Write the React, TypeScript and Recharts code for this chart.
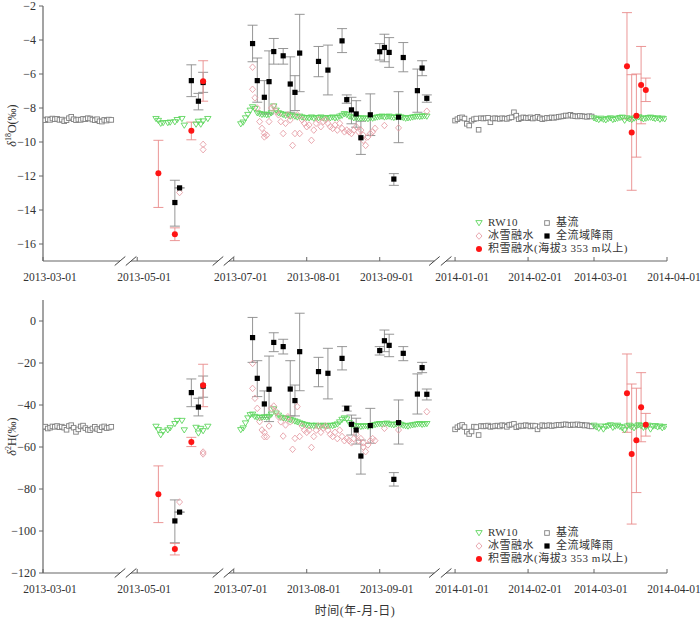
import { ScatterChart, Scatter, XAxis, YAxis, ErrorBar, ReferenceLine, Legend } from "recharts";

// broken time axis: each segment start date sits at a fixed axis position (days)
const SEGMENTS = [
  { start: "2013-03-01", at: 0 },
  { start: "2013-05-01", at: 40 },
  { start: "2013-07-01", at: 81 },
  { start: "2014-01-01", at: 175 },
];
const AXIS_PIECES = [[0, 32.7], [37.4, 74.3], [79, 166.2], [171.2, 265]];
const BREAK_MARKS = [32.7, 37.4, 74.3, 79, 166.2, 171.2];
const TICK_DATES = [
  "2013-03-01", "2013-05-01", "2013-07-01", "2013-08-01", "2013-09-01",
  "2014-01-01", "2014-02-01", "2014-03-01", "2014-04-01",
];

// 基流
const baseMarStart = "2013-03-01";
const baseMarO = [-8.68, -8.72, -8.66, -8.7, -8.62, -8.66, -8.64, -8.7, -8.68, -8.78, -8.72, -8.6, -8.52, -8.66, -8.72, -8.68, -8.7, -8.64, -8.66, -8.6, -8.62, -8.68, -8.72, -8.66, -8.78, -8.8, -8.7, -8.74, -8.68, -8.7];
const baseMarH = [-50.5, -50.3, -51.2, -50.8, -50.2, -50.4, -50, -50.6, -50.3, -50.8, -51.8, -50, -49.6, -50.8, -52.8, -51.6, -50.2, -49.8, -51, -51.8, -52, -51.2, -50.4, -51.4, -52, -50.6, -50.2, -51, -50.8, -50.4];
const baseJanStart = "2014-01-01";
const baseJanO = [-8.74, -8.66, -8.58, -8.55, -8.62, -8.93, -9.03, -8.74, -8.66, -8.62, -9.28, -8.6, -8.62, -8.6, -8.58, -8.84, -8.62, -8.6, -8.62, -8.64, -8.6, -8.62, -8.64, -8.58, -8.55, -8.25, -8.45, -8.66, -8.6, -8.55, -8.58, -8.6, -8.55, -8.62, -8.58, -8.52, -8.6, -8.66, -8.62, -8.58, -8.6, -8.55, -8.58, -8.55, -8.52, -8.5, -8.48, -8.44, -8.45, -8.4, -8.46, -8.48, -8.5, -8.46, -8.48, -8.5, -8.52, -8.48, -8.5];
const baseJanH = [-51.6, -50.6, -50, -49.5, -50.5, -52.7, -53.8, -52.6, -50.3, -50.5, -54.3, -50, -50.2, -50, -49.8, -50.4, -50.2, -50, -49.8, -50.2, -49.6, -49.8, -50.4, -49.5, -49.3, -49, -50.6, -50.2, -49.8, -50, -49.6, -49.8, -50.2, -49.8, -50, -51.6, -50.2, -49.6, -50, -49.8, -49.6, -50, -49.8, -49.6, -49.4, -49.6, -49.3, -49.2, -49.4, -49.6, -49.3, -49.5, -49.2, -49.6, -49.4, -49.8, -49.6, -50, -50.2];

// RW10
const rwMayDates = ["2013-05-09", "2013-05-10", "2013-05-11", "2013-05-12", "2013-05-14", "2013-05-15", "2013-05-17", "2013-05-18", "2013-05-20", "2013-05-21", "2013-05-26", "2013-05-27", "2013-05-28", "2013-05-29", "2013-05-31"];
const rwMayO = [-8.64, -8.75, -8.92, -8.88, -8.88, -8.85, -8.83, -8.7, -8.64, -9.03, -8.97, -8.8, -8.97, -8.78, -8.64];
const rwMayH = [-50.3, -51.9, -54.3, -52.7, -52, -51, -49, -47.5, -47.5, -52, -50.8, -53.5, -51.3, -52.4, -50.3];
const rwJulStart = "2013-07-04";
const rwJulO = [-8.95, -8.85, -8.6, -8.4, -8.15, -7.95, -8.05, -8.3, -8.35, -8.4, -8.38, -8.42, -8.4, -8.3, -7.9, -8.15, -8.3, -8.35, -8.4, -8.45, -8.4, -8.5, -8.45, -8.5, -8.55, -8.5, -8.55, -8.6,
  -8.58, -8.6, -8.55, -8.62, -8.58, -8.6, -8.55, -8.6, -8.62, -8.58, -8.6, -8.55, -8.6, -8.58, -8.5, -8.45, -8.35, -8.4, -8.5, -8.55, -8.6, -8.58, -8.6, -8.62, -8.6, -8.62, -8.65, -8.6, -8.62, -8.58, -8.55,
  -8.52, -8.5, -8.55, -8.52, -8.5, -8.55, -8.58, -8.55, -8.5, -8.55, -8.58, -8.62, -8.6, -8.58, -8.55, -8.52, -8.5, -8.52, -8.5, -8.48, -8.5];
const rwJulH = [-51.9, -51.1, -48.7, -46.3, -44.8, -44.5, -45.6, -46, -46.2, -46, -45.8, -46, -45.6, -44.5, -42, -44, -45, -46, -46.3, -46.5, -46.8, -47.1, -47.4, -47.8, -48.2, -48.7, -49, -49.4,
  -49.6, -50, -49.8, -50, -49.8, -50.2, -50, -49.8, -50.2, -50, -49.8, -50, -49.6, -49.2, -48.2, -47, -46.3, -46.8, -48.5, -49.5, -50, -50.2, -50, -50.4, -50.2, -50, -50.3, -50, -49.8, -49.5, -49.2,
  -49, -49.2, -49, -48.8, -49.2, -49.4, -49.6, -49.2, -49, -49.4, -49.8, -50, -50.2, -49.8, -49.6, -49.4, -49.2, -49, -49.4, -49.2, -49];
const rwMarStart = "2014-03-01";
const rwMarO = [-8.6, -8.66, -8.7, -8.62, -8.68, -8.72, -8.64, -8.6, -8.7, -8.66, -8.62, -8.58, -8.56, -8.74, -8.6, -8.66, -8.7, -8.62, -8.58, -8.54, -8.6, -8.66, -8.62, -8.58, -8.56, -8.6, -8.64, -8.6, -8.68, -8.62, -8.66];
const rwMarH = [-49.8, -50.6, -51.2, -50.2, -51.6, -50.4, -50, -49.6, -50.8, -50.2, -49.8, -50.4, -51, -52, -50.2, -49.8, -50.6, -51, -50.2, -49.6, -50, -50.8, -50.4, -49.8, -51.6, -50.2, -50, -50.6, -50.2, -51, -50.4];

// 冰雪融水
const meltJulStart = "2013-07-09";
const meltJulO = [-6.9, -7.4, -8.0, -8.8, -9.2, -9.7, -9.6, -8.8, -8.0, -7.9, -8.2, -8.4, -8.8, -9.5, -8.9, -8.4, -8.7, -10.2, -9.5, -8.4, -9.5, -8.7, -8.9,
  -9.1, -9.0, -9.9, -9.3, -8.9, -8.7, -9.1, -8.8, -8.7, -8.9, -9.1, -9.2, -9.0, -9.3, -8.9, -9.2, -9.4, -9.3, -9.4, -9.5, -9.3, -9.1, -9.4, -9.3, -9.6, -10.2, -9.7, -9.5, -9.4, -9.2];
const meltJulH = [-32.1, -36.8, -41.6, -47.9, -51.9, -55.1, -55.1, -50, -41.6, -40.5, -43.2, -45.6, -48, -54.8, -49.5, -45.6, -48, -61.1, -55.9, -40.8, -55, -50, -52,
  -53, -52, -60.2, -55, -52, -50, -53, -51, -50, -52, -54, -55, -53, -56, -52, -55, -57, -56, -57, -58, -56, -54, -57, -56, -58, -62.2, -59, -57, -56, -57];
const meltOtherDates = ["2013-05-19", "2013-05-29", "2013-05-29", "2013-07-09", "2013-07-14", "2013-08-25", "2013-09-03", "2013-09-09", "2013-09-21"];
const meltOtherO = [-12.97, -10.14, -10.45, -5.6, -9.5, -9.9, -9.03, -9.17, -8.19];
const meltOtherH = [-86.2, -63.3, -62.4, -20.2, -53, -60, -51.1, -51.9, -43.2];

// 全流域降雨 (value, lower and upper end of error bar)
const rainDates = ["2013-05-17", "2013-05-19", "2013-05-24", "2013-05-27", "2013-05-29",
  "2013-07-09", "2013-07-11", "2013-07-14", "2013-07-16", "2013-07-18", "2013-07-22", "2013-07-25", "2013-07-27", "2013-07-29",
  "2013-08-06", "2013-08-10", "2013-08-16", "2013-08-18", "2013-08-20", "2013-08-22", "2013-08-24", "2013-08-28",
  "2013-09-01", "2013-09-03", "2013-09-05", "2013-09-07", "2013-09-09", "2013-09-11", "2013-09-17", "2013-09-19", "2013-09-21"];
const rainO = [-13.56, -12.7, -6.39, -7.6, -6.5, -4.21, -6.39, -7.37, -6.45, -4.68, -4.93, -6.59, -7.08, -4.77, -5.26, -5.77, -4.05, -7.51, -8.11, -8.35, -9.75, -8.4, -4.69, -4.44, -4.73, -12.18, -8.54, -5.03, -6.98, -5.65, -7.43];
const rainOLo = [-14.95, -12.7, -7.33, -8.11, -7.08, -5.28, -7.66, -8.35, -8.35, -5.42, -5.42, -8.25, -8.15, -7.04, -6.16, -7.23, -4.74, -7.72, -8.93, -9.13, -10.73, -9.62, -5.18, -5.28, -5.61, -12.55, -10.04, -5.87, -8.25, -6.1, -7.66];
const rainOHi = [-12.25, -12.7, -5.46, -7.14, -5.9, -3.13, -5.06, -6.39, -4.64, -3.91, -4.5, -4.99, -6.1, -2.49, -4.38, -4.3, -3.33, -7.23, -7.37, -7.57, -8.78, -7.17, -4.21, -3.66, -3.86, -11.86, -7.04, -4.15, -5.71, -5.22, -7.23];
const rainH = [-95.2, -91, -34.1, -41, -31, -7.9, -27.3, -39.5, -32.5, -10.2, -12.2, -32.4, -37.9, -14.6, -24.1, -24.9, -17.8, -41.6, -49.2, -51.9, -64.3, -49.8, -14.1, -9.4, -11.6, -75.4, -48.4, -15.4, -34.8, -22.2, -34.9];
const rainHLo = [-105.6, -91, -40.8, -45.2, -36.3, -19.7, -36, -45.9, -47.9, -14.6, -15.7, -45.2, -45.2, -33.2, -31.3, -37.1, -23.3, -42.9, -54.3, -58.6, -72.9, -58.2, -16.2, -14.6, -17, -78.6, -58.6, -18.9, -44.3, -24.6, -37.6];
const rainHHi = [-85.2, -91, -27.6, -36.8, -26.2, 1.7, -18.9, -33.3, -16.7, -5.6, -8.7, -18.9, -30.5, 3.7, -17.3, -13, -12.2, -40.5, -44.8, -46.3, -56.7, -41.6, -12.2, -4.3, -6.3, -72.2, -37.6, -12.2, -25.2, -19.7, -32.4];

// 积雪融水(海拔3 353 m以上)
const snowDates = ["2013-05-10", "2013-05-17", "2013-05-24", "2013-05-29", "2014-03-15", "2014-03-17", "2014-03-19", "2014-03-21", "2014-03-23"];
const snowO = [-11.84, -15.42, -9.34, -6.43, -5.55, -9.44, -8.46, -6.65, -6.94];
const snowOLo = [-13.85, -15.8, -9.87, -7.6, -8.64, -12.84, -10.89, -8.93, -7.62];
const snowOHi = [-9.9, -15.05, -8.83, -5.22, -2.39, -6.04, -6.0, -4.38, -6.24];
const snowH = [-82.5, -108.6, -57.6, -30.6, -34.4, -63.3, -56.8, -41.1, -49.4];
const snowHLo = [-96, -111.4, -59.8, -40.8, -53, -96.7, -81.7, -57.5, -54.8];
const snowHHi = [-69, -105.9, -55.4, -20.6, -15.7, -30, -32, -24.6, -44];

const DAY = 86400000;
const dayNo = (s: string) => {
  const [y, m, d] = s.split("-").map(Number);
  return Date.UTC(y, m - 1, d) / DAY;
};
const pos = (s: string) => {
  const n = dayNo(s);
  let seg = SEGMENTS[0];
  for (const g of SEGMENTS) if (dayNo(g.start) <= n) seg = g;
  return seg.at + n - dayNo(seg.start);
};
const daily = (start: string, count: number) =>
  Array.from({ length: count }, (_, i) => new Date((dayNo(start) + i) * DAY).toISOString().slice(0, 10));

const points = (dates: string[], vals: number[], lo?: number[], hi?: number[]) =>
  dates.map((d, i) => ({
    x: pos(d),
    y: vals[i],
    err: lo && hi ? [vals[i] - lo[i], hi[i] - vals[i]] : undefined,
  }));

const TICK_POS = TICK_DATES.map(pos);

const SERIF = "'Liberation Serif', 'Times New Roman', 'Noto Sans CJK SC', serif";
const GREEN = "#5fd65f";
const PINK = "#e6a0a8";
const GREY = "#808080";
const RED = "#ff1414";

const TriDown = ({ cx, cy }: any) => (
  <path d={`M${cx - 3.2},${cy - 2.4}L${cx + 3.2},${cy - 2.4}L${cx},${cy + 2.8}Z`} fill="none" stroke={GREEN} strokeWidth={0.9} />
);
const OpenSquare = ({ cx, cy }: any) => (
  <rect x={cx - 2.3} y={cy - 2.3} width={4.6} height={4.6} fill="#fff" stroke={GREY} strokeWidth={0.9} />
);
const Diamond = ({ cx, cy }: any) => (
  <path d={`M${cx},${cy - 3.3}L${cx + 3},${cy}L${cx},${cy + 3.3}L${cx - 3},${cy}Z`} fill="none" stroke={PINK} strokeWidth={0.9} />
);
const BlackSquare = ({ cx, cy }: any) => <rect x={cx - 2.6} y={cy - 2.6} width={5.2} height={5.2} fill="#000" />;
const RedDot = ({ cx, cy }: any) => <circle cx={cx} cy={cy} r={3} fill={RED} />;

const LEGEND = [
  { name: "RW10", Icon: TriDown },
  { name: "基流", Icon: OpenSquare },
  { name: "冰雪融水", Icon: Diamond },
  { name: "全流域降雨", Icon: BlackSquare },
  { name: "积雪融水(海拔3 353 m以上)", Icon: RedDot },
];

const renderLegend = () => (
  <div style={{ display: "grid", gridTemplateColumns: "68px auto", fontFamily: SERIF, fontSize: 11, color: "#333", lineHeight: "13px", letterSpacing: 0.5 }}>
    {LEGEND.map(({ name, Icon }, i) => (
      <div key={name} style={{ display: "flex", alignItems: "center", gridColumn: i === 4 ? "1 / span 2" : undefined, whiteSpace: "nowrap" }}>
        <svg width={10} height={10} style={{ marginRight: 4 }}>
          <Icon cx={5} cy={5} />
        </svg>
        <span>{name}</span>
      </div>
    ))}
  </div>
);

const DateTick = ({ x, y, payload }: any) => {
  const label = TICK_DATES[TICK_POS.indexOf(payload.value)];
  return (
    <g>
      <line x1={x} x2={x} y1={y} y2={y - 4} stroke="#666" />
      <text x={x + 7} y={y + 20} textAnchor="middle" fontSize={11.5} fill="#333" fontFamily={SERIF}>
        {label}
      </text>
    </g>
  );
};

const PANELS = [
  {
    key: "o",
    domain: [-17, -2],
    ticks: [-16, -14, -12, -10, -8, -6, -4, -2],
    height: 300,
    margin: { top: 6, right: 33, bottom: 9, left: 0 },
    xHeight: 30,
    sup: "18",
    el: "O",
    titleShift: -8,
    legendTop: 216,
  },
  {
    key: "h",
    domain: [-120, 10],
    ticks: [-120, -100, -80, -60, -40, -20, 0],
    height: 319,
    margin: { top: 0, right: 33, bottom: 0, left: 0 },
    xHeight: 46,
    sup: "2",
    el: "H",
    titleShift: 0,
    legendTop: 226,
  },
];

function Panel({ p }: { p: (typeof PANELS)[number] }) {
  const isO = p.key === "o";
  const base = [
    ...points(daily(baseMarStart, baseMarO.length), isO ? baseMarO : baseMarH),
    ...points(daily(baseJanStart, baseJanO.length), isO ? baseJanO : baseJanH),
  ];
  const rw = [
    ...points(rwMayDates, isO ? rwMayO : rwMayH),
    ...points(daily(rwJulStart, rwJulO.length), isO ? rwJulO : rwJulH),
    ...points(daily(rwMarStart, rwMarO.length), isO ? rwMarO : rwMarH),
  ];
  const melt = [
    ...points(daily(meltJulStart, meltJulO.length), isO ? meltJulO : meltJulH),
    ...points(meltOtherDates, isO ? meltOtherO : meltOtherH),
  ];
  const rain = isO ? points(rainDates, rainO, rainOLo, rainOHi) : points(rainDates, rainH, rainHLo, rainHHi);
  const snow = isO ? points(snowDates, snowO, snowOLo, snowOHi) : points(snowDates, snowH, snowHLo, snowHHi);

  const [yMin, yMax] = p.domain;
  const plotH = p.height - p.margin.top - p.margin.bottom - p.xHeight;
  const dy = (4.5 * (yMax - yMin)) / plotH;
  const dx = 2.25;

  return (
    <ScatterChart width={700} height={p.height} margin={p.margin}>
      <XAxis
        type="number"
        dataKey="x"
        domain={[0, 265]}
        ticks={TICK_POS}
        interval={0}
        allowDataOverflow
        axisLine={false}
        tickLine={false}
        tickSize={0}
        tickMargin={0}
        height={p.xHeight}
        tick={<DateTick />}
        label={
          isO
            ? undefined
            : { value: "时间(年-月-日)", position: "insideBottom", offset: 4, fontSize: 12, fill: "#333", fontFamily: SERIF, letterSpacing: 0.5 }
        }
      />
      <YAxis
        type="number"
        dataKey="y"
        domain={p.domain}
        ticks={p.ticks}
        interval={0}
        allowDataOverflow
        width={43}
        tickSize={4}
        tickMargin={3}
        axisLine={{ stroke: "#666", strokeWidth: 1.2 }}
        tickLine={{ stroke: "#666" }}
        tick={{ fontSize: 12, fill: "#333", fontFamily: SERIF }}
        tickFormatter={(v: number) => String(v).replace("-", "\u2212")}
        label={{
          content: ({ viewBox }: any) => {
            const cx = 12;
            const cy = viewBox.y + viewBox.height / 2 + p.titleShift;
            return (
              <text x={cx} y={cy} transform={`rotate(-90, ${cx}, ${cy})`} textAnchor="middle" dominantBaseline="central" fontSize={12} fill="#333" fontFamily={SERIF}>
                <tspan fontStyle="italic">δ</tspan>
                <tspan fontSize={8} dy={-4}>{p.sup}</tspan>
                <tspan dy={4}>{p.el}(‰)</tspan>
              </text>
            );
          },
        }}
      />
      {AXIS_PIECES.map(([a, b], i) => (
        <ReferenceLine key={`ax${i}`} segment={[{ x: a, y: yMin }, { x: b, y: yMin }]} stroke="#666" strokeWidth={1.2} ifOverflow="visible" />
      ))}
      {BREAK_MARKS.map((b, i) => (
        <ReferenceLine key={`br${i}`} segment={[{ x: b - dx, y: yMin - dy }, { x: b + dx, y: yMin + dy }]} stroke="#444" strokeWidth={1} ifOverflow="visible" />
      ))}
      <Scatter name="基流" data={base} shape={<OpenSquare />} isAnimationActive={false} />
      <Scatter name="RW10" data={rw} shape={<TriDown />} isAnimationActive={false} />
      <Scatter name="冰雪融水" data={melt} shape={<Diamond />} isAnimationActive={false} />
      <Scatter name="全流域降雨" data={rain} shape={<BlackSquare />} isAnimationActive={false}>
        <ErrorBar dataKey="err" direction="y" width={5} stroke="#8a8a8a" strokeWidth={0.9} isAnimationActive={false} />
      </Scatter>
      <Scatter name="积雪融水(海拔3 353 m以上)" data={snow} shape={<RedDot />} isAnimationActive={false}>
        <ErrorBar dataKey="err" direction="y" width={5} stroke="#e98b8b" strokeWidth={0.9} isAnimationActive={false} />
      </Scatter>
      <Legend
        layout="horizontal"
        verticalAlign="middle"
        align="center"
        content={renderLegend}
        wrapperStyle={{ left: 474, top: p.legendTop, width: 180 }}
      />
    </ScatterChart>
  );
}

export default function App() {
  return (
    <div style={{ width: 700, height: 619, background: "#fff" }}>
      <style>{"body{margin:0}.recharts-surface{overflow:visible}"}</style>
      {PANELS.map((p) => (
        <Panel key={p.key} p={p} />
      ))}
    </div>
  );
}
